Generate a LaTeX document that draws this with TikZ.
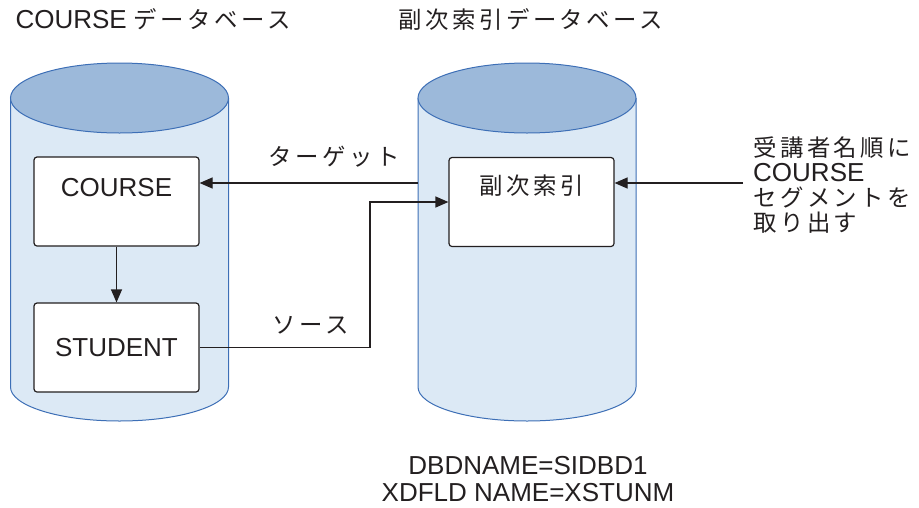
\documentclass[tikz,border=0pt]{standalone}
\usepackage{fontspec}
\setmainfont{Liberation Sans}
\newfontfamily\jp[Scale=0.9, LetterSpace=15]{Noto Sans CJK JP}
\usetikzlibrary{arrows.meta}
\definecolor{cylfill}{HTML}{DCE9F5}
\definecolor{cyltop}{HTML}{9CB9DA}
\definecolor{cylline}{HTML}{3D6FB6}
\definecolor{ink}{HTML}{231F20}
\setlength{\lineskiplimit}{-30pt}
\begin{document}
\begin{tikzpicture}[x=1pt, y=-1pt, >={Triangle[length=13pt,width=11pt]},
	every node/.style={font=\fontsize{26}{25}\selectfont, text=ink},
	rec/.style={draw=ink, fill=white, line width=1.2pt, rounded corners=3pt, minimum width=165pt, minimum height=89pt, inner sep=0pt},
	conn/.style={draw=ink, line width=1.2pt}]
	\useasboundingbox (0,0) rectangle (919,507);
	
	% 1. 两个数据库圆柱 (左: COURSE, 右: 副次索引)
	\foreach \cx in {119.5,527} {
		\fill[cylfill] (\cx-109,98) -- (\cx-109,387) arc[start angle=180, end angle=360, x radius=109pt, y radius=34pt] -- (\cx+109,98) -- cycle;
		\draw[cylline, line width=1pt] (\cx-109,98) -- (\cx-109,387) arc[start angle=180, end angle=360, x radius=109pt, y radius=34pt] -- (\cx+109,98);
		\draw[cylline, fill=cyltop, line width=1pt] (\cx,98) ellipse[x radius=109pt, y radius=35pt];
	}
	\node[anchor=west] (titleL) at (12,19) {COURSE {\jp データベース}};
	\node[anchor=west] (titleR) at (395,19) {\jp 副次索引データベース};
	
	% 2. 段 (セグメント)
	\node[rec] (course) at (116.5,201.5) {};
	\node (coursetxt) at (116.5,187.5) {COURSE};
	\node[rec] (student) at (116.5,347.5) {STUDENT};
	\node[rec] (idx) at (531.5,202) {};
	\node (idxtxt) at (531.5,186) {\jp 副次索引};
	
	% 3. 连线
	\coordinate (tgtfrom) at (418,183);
	\coordinate (srcbend) at (370,202);
	\coordinate (reqfrom) at (743,183);
	\draw[conn, ->] (course.south) -- (student.north);
	\draw[conn, ->] (tgtfrom) -- (course.east |- tgtfrom);
	\draw[conn, ->] (student.east) -| (srcbend) -- (idx.west);
	\draw[conn, ->] (reqfrom) -- (idx.east |- reqfrom);
	\node (tgtlbl) at (334,157) {\jp ターゲット};
	\node (srclbl) at (311,325) {\jp ソース};
	
	% 4. 说明文字
	\node[anchor=north west, align=left, inner sep=0pt] (reqtxt) at (753,137) {{\jp 受講者名順に}\\COURSE\\{\jp セグメントを}\\{\jp 取り出す}};
	\node[align=center, font=\fontsize{26}{27}\selectfont] (dbdtxt) at (528,479) {DBDNAME=SIDBD1\\XDFLD NAME=XSTUNM};
\end{tikzpicture}
\end{document}
